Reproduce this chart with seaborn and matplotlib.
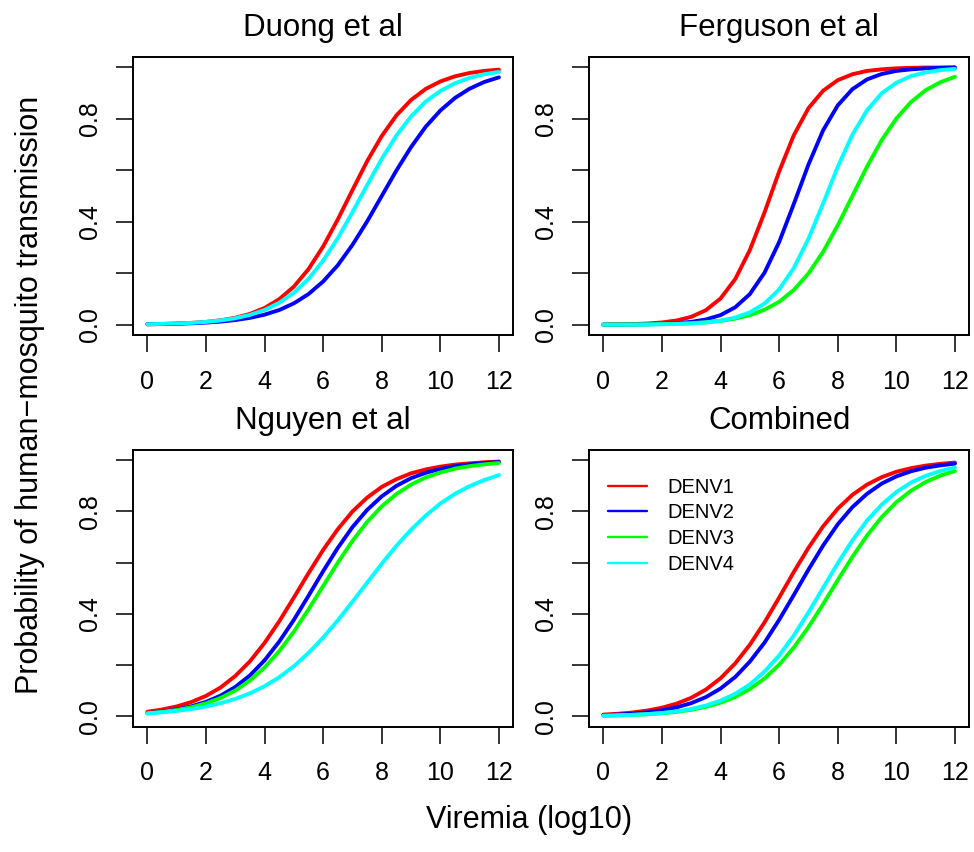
import numpy as np
import pandas as pd
import matplotlib
matplotlib.use("Agg")
import matplotlib.pyplot as plt
import seaborn as sns

# viremia grid (log10)
viremia = [0.0, 0.5, 1.0, 1.5, 2.0, 2.5, 3.0, 3.5, 4.0, 4.5, 5.0, 5.5, 6.0,
           6.5, 7.0, 7.5, 8.0, 8.5, 9.0, 9.5, 10.0, 10.5, 11.0, 11.5, 12.0]

# Duong et al (no DENV3 curve)
duong_denv1 = [0.0017, 0.0028, 0.0044, 0.0069, 0.0109, 0.0171, 0.0269, 0.042, 0.065, 0.099, 0.148, 0.216, 0.304,
               0.409, 0.523, 0.635, 0.733, 0.813, 0.873, 0.916, 0.945, 0.965, 0.978, 0.986, 0.991]
duong_denv2 = [0.0017, 0.0025, 0.0037, 0.0055, 0.0082, 0.0121, 0.018, 0.0266, 0.039, 0.057, 0.083, 0.119, 0.168,
               0.231, 0.310, 0.401, 0.500, 0.599, 0.690, 0.769, 0.832, 0.881, 0.917, 0.943, 0.961]
duong_denv4 = [0.0020, 0.0031, 0.0047, 0.0072, 0.0109, 0.0166, 0.0252, 0.038, 0.057, 0.085, 0.124, 0.178, 0.249,
               0.336, 0.437, 0.542, 0.644, 0.735, 0.809, 0.867, 0.908, 0.938, 0.959, 0.973, 0.982]

# Ferguson et al
ferguson_denv1 = [0.0007, 0.0013, 0.0024, 0.0046, 0.0087, 0.0164, 0.0306, 0.0565, 0.102, 0.177, 0.290, 0.436, 0.595,
                  0.736, 0.841, 0.909, 0.950, 0.973, 0.986, 0.992, 0.996, 0.998, 0.999, 0.999, 0.9997]
ferguson_denv2 = [0.0003, 0.0005, 0.0009, 0.0017, 0.0032, 0.0059, 0.011, 0.0203, 0.0373, 0.0676, 0.119, 0.202, 0.321,
                  0.469, 0.622, 0.755, 0.852, 0.915, 0.953, 0.974, 0.986, 0.992, 0.996, 0.998, 0.9988]
ferguson_denv3 = [0.0004, 0.0006, 0.0009, 0.0015, 0.0024, 0.0038, 0.0060, 0.0095, 0.0150, 0.0236, 0.0372, 0.058, 0.089,
                  0.135, 0.199, 0.283, 0.386, 0.500, 0.614, 0.717, 0.801, 0.865, 0.911, 0.942, 0.963]
ferguson_denv4 = [0.0002, 0.0003, 0.0005, 0.0009, 0.0016, 0.0028, 0.0050, 0.0089, 0.0157, 0.0275, 0.048, 0.082, 0.137,
                  0.220, 0.334, 0.471, 0.613, 0.738, 0.833, 0.899, 0.940, 0.966, 0.980, 0.989, 0.994]

# Nguyen et al
nguyen_denv1 = [0.0185, 0.0269, 0.0390, 0.0561, 0.0802, 0.113, 0.158, 0.215, 0.287, 0.371, 0.464, 0.559, 0.650,
                0.731, 0.800, 0.854, 0.896, 0.926, 0.949, 0.964, 0.975, 0.983, 0.988, 0.992, 0.995]
nguyen_denv2 = [0.0127, 0.0186, 0.0271, 0.0394, 0.0568, 0.0812, 0.115, 0.160, 0.219, 0.292, 0.377, 0.471, 0.567,
                0.658, 0.739, 0.806, 0.859, 0.900, 0.930, 0.951, 0.966, 0.977, 0.984, 0.989, 0.993]
nguyen_denv3 = [0.0121, 0.0174, 0.0250, 0.0358, 0.051, 0.0722, 0.101, 0.140, 0.191, 0.255, 0.331, 0.418, 0.509,
                0.600, 0.685, 0.759, 0.820, 0.868, 0.905, 0.933, 0.952, 0.967, 0.977, 0.984, 0.989]
nguyen_denv4 = [0.0120, 0.0162, 0.0217, 0.0290, 0.0388, 0.0517, 0.0685, 0.0903, 0.118, 0.153, 0.196, 0.248, 0.308,
                0.375, 0.448, 0.522, 0.596, 0.666, 0.729, 0.784, 0.831, 0.869, 0.899, 0.923, 0.942]

# Combined
combined_denv1 = [0.0071, 0.0105, 0.0156, 0.0231, 0.0341, 0.050, 0.0728, 0.105, 0.149, 0.207, 0.280, 0.367, 0.464,
                  0.564, 0.658, 0.742, 0.811, 0.865, 0.905, 0.934, 0.955, 0.969, 0.979, 0.986, 0.991]
combined_denv2 = [0.0050, 0.0074, 0.0109, 0.0162, 0.0240, 0.0355, 0.0520, 0.0756, 0.109, 0.154, 0.214, 0.288, 0.377,
                  0.474, 0.573, 0.667, 0.750, 0.817, 0.869, 0.909, 0.937, 0.957, 0.971, 0.980, 0.987]
combined_denv3 = [0.0028, 0.0041, 0.0059, 0.0086, 0.0125, 0.0180, 0.0260, 0.0374, 0.0535, 0.0760, 0.107, 0.148, 0.202,
                  0.269, 0.349, 0.438, 0.532, 0.623, 0.706, 0.778, 0.836, 0.881, 0.915, 0.940, 0.958]
combined_denv4 = [0.0029, 0.0043, 0.0063, 0.0093, 0.0136, 0.0200, 0.0292, 0.0426, 0.0617, 0.0885, 0.125, 0.175, 0.238,
                  0.316, 0.406, 0.502, 0.598, 0.687, 0.765, 0.827, 0.876, 0.913, 0.939, 0.958, 0.971]

panels = [
    ("Duong et al", {"DENV1": duong_denv1, "DENV2": duong_denv2, "DENV4": duong_denv4}),
    ("Ferguson et al", {"DENV1": ferguson_denv1, "DENV2": ferguson_denv2,
                        "DENV3": ferguson_denv3, "DENV4": ferguson_denv4}),
    ("Nguyen et al", {"DENV1": nguyen_denv1, "DENV2": nguyen_denv2,
                      "DENV3": nguyen_denv3, "DENV4": nguyen_denv4}),
    ("Combined", {"DENV1": combined_denv1, "DENV2": combined_denv2,
                  "DENV3": combined_denv3, "DENV4": combined_denv4}),
]

serotypes = ["DENV1", "DENV2", "DENV3", "DENV4"]
colors = {"DENV1": "#FF0000", "DENV2": "#0000FF", "DENV3": "#00FF00", "DENV4": "#00FFFF"}

yticks = [0.0, 0.2, 0.4, 0.6, 0.8, 1.0]
ytick_labels = ["0.0", "", "0.4", "", "0.8", ""]
xticks = [0, 2, 4, 6, 8, 10, 12]

sns.set_theme(style="ticks")
plt.rcParams["font.family"] = ["Liberation Sans", "DejaVu Sans"]
plt.rcParams["text.color"] = "black"
plt.rcParams["axes.labelcolor"] = "black"
plt.rcParams["xtick.color"] = "black"
plt.rcParams["ytick.color"] = "black"

W, H = 974, 852
fig = plt.figure(figsize=(W / 100, H / 100), dpi=100)

# axes boxes in pixels: left, top, right, bottom
boxes = [(133.3, 57, 513, 335), (589.3, 57, 969, 335),
         (133.3, 450, 513, 726.7), (589.3, 450, 969, 726.7)]

for (title, curves), (l, t, r, b) in zip(panels, boxes):
    ax = fig.add_axes([l / W, 1 - b / H, (r - l) / W, (b - t) / H])
    rows = []
    for s in serotypes:
        if s in curves:
            for xv, yv in zip(viremia, curves[s]):
                rows.append({"viremia": xv, "prob": yv, "serotype": s})
    df = pd.DataFrame(rows)
    present = [s for s in serotypes if s in curves]
    sns.lineplot(data=df, x="viremia", y="prob", hue="serotype", hue_order=present,
                 palette=colors, linewidth=2.8, errorbar=None, legend=False, ax=ax)
    ax.set_xlim(-0.48, 12.48)
    ax.set_ylim(-0.04, 1.04)
    ax.set_xticks(xticks)
    ax.set_xticklabels([str(v) for v in xticks])
    ax.set_yticks(yticks)
    ax.set_yticklabels(ytick_labels, rotation=90, va="center")
    ax.tick_params(axis="x", length=12, width=1.1, pad=13, labelsize=18, colors="black")
    ax.tick_params(axis="y", length=12, width=1.1, pad=10.5, labelsize=18, colors="black")
    ax.set_xlabel("")
    ax.set_ylabel("")
    ax.set_title(title, fontsize=22.5, pad=15, color="black")
    for sp in ax.spines.values():
        sp.set_visible(True)
        sp.set_linewidth(1.4)
        sp.set_color("black")

    if title == "Combined":
        handles = [plt.Line2D([], [], color=colors[s], linewidth=1.7) for s in serotypes]
        ax.legend(handles, serotypes, loc="upper left", bbox_to_anchor=(0.049, 0.9),
                  frameon=False, fontsize=14.5, handlelength=1.95, handletextpad=1.0,
                  labelspacing=0.33, borderpad=0, borderaxespad=0)

fig.text(30 / W, 1 - 395 / H, "Probability of human\u2212mosquito transmission",
         rotation=90, ha="center", va="center", fontsize=22)
fig.text(529 / W, 1 - 820 / H, "Viremia (log10)", ha="center", va="center", fontsize=22)

fig.savefig("out.png", dpi=100, facecolor="white")
